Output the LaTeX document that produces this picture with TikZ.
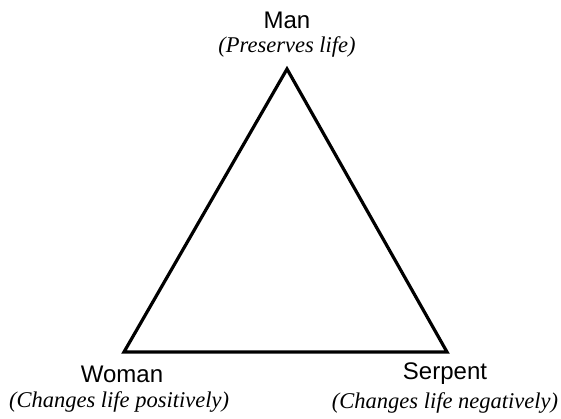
\documentclass[tikz,border=0pt]{standalone}
\usepackage{fontspec}
\setmainfont{Liberation Serif}
\setsansfont{Liberation Sans}
\begin{document}
\begin{tikzpicture}[x=1pt,y=-1pt,
  vlabel/.style={font=\sffamily\fontsize{24}{26}\selectfont, inner sep=0pt},
  role/.style={font=\itshape\fontsize{22.5}{24}\selectfont, inner sep=0pt},
  edge/.style={line width=3.2pt, line join=miter}]
\useasboundingbox (0,0) rectangle (561,419);
\coordinate (apex) at (287,69);
\coordinate (bl) at (124,352);
\coordinate (br) at (447,352);
\draw[edge] (apex) -- (bl) -- (br) -- cycle;
\node[vlabel] (man) at (287,20) {Man};
\node[role] (manr) at (287,47) {(Preserves life)};
\node[vlabel] (woman) at (122,374) {Woman};
\node[role] (womanr) at (119,402) {(Changes life positively)};
\node[vlabel] (serpent) at (445,374) {Serpent};
\node[role] (serpentr) at (445,403) {(Changes life negatively)};
\end{tikzpicture}
\end{document}
